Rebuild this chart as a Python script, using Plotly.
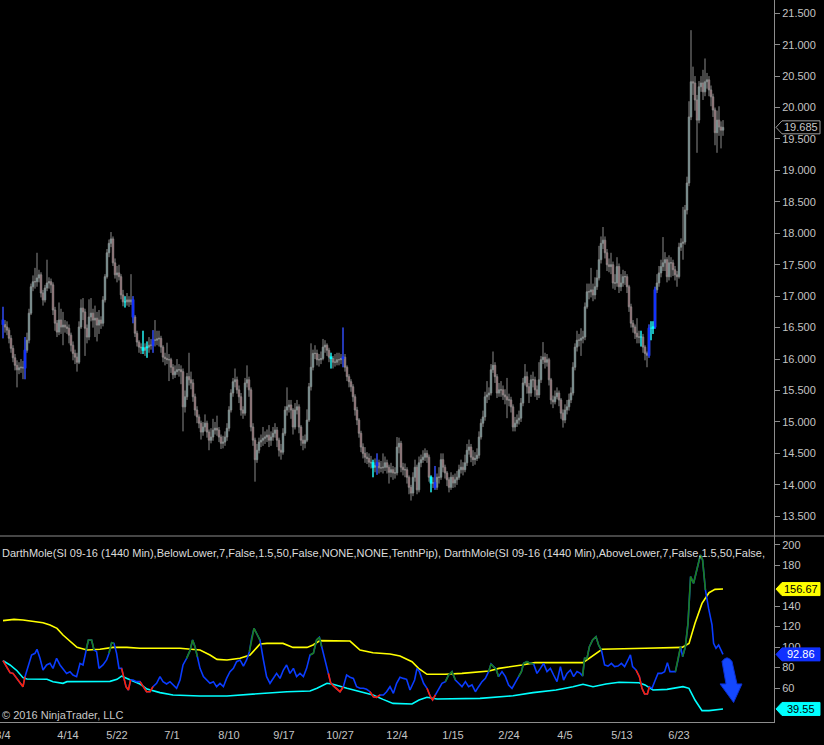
import plotly.graph_objects as go

# ---------------- price data (SI 09-16 daily bars) ----------------
closes = [
    16.55, 16.51, 16.46, 16.33, 16.17, 16.02, 15.90, 15.83, 15.86, 15.87,
    15.86, 16.14, 16.30, 16.73, 17.15, 17.23, 17.23, 17.29, 17.34, 17.05,
    16.94, 17.13, 17.21, 17.23, 17.18, 16.78, 16.57, 16.43, 16.62, 16.51,
    16.54, 16.51, 16.49, 16.38, 16.22, 16.09, 16.03, 15.95, 16.51, 16.81,
    16.75, 16.49, 16.35, 16.67, 16.73, 16.62, 16.65, 16.54, 16.62, 16.57,
    16.94, 17.31, 17.69, 17.84, 17.91, 17.53, 17.34, 17.37, 17.31, 17.02,
    16.91, 16.91, 16.94, 16.91, 16.94, 16.67, 16.41, 16.27, 16.19, 16.18,
    16.14, 16.18, 16.19, 16.22, 16.22, 16.30, 16.30, 16.32, 16.33, 16.19,
    16.03, 16.01, 15.99, 15.99, 15.87, 15.75, 15.80, 15.83, 15.83, 15.80,
    15.24, 15.40, 15.72, 15.67, 15.62, 15.40, 15.19, 15.08, 14.98, 14.84,
    14.92, 14.98, 14.84, 14.71, 14.76, 14.87, 14.90, 14.87, 14.76, 14.66,
    14.68, 14.76, 14.90, 15.19, 15.46, 15.64, 15.67, 15.51, 15.40, 15.19,
    15.14, 15.62, 15.67, 15.51, 14.92, 14.71, 14.40, 14.55, 14.68, 14.71,
    14.74, 14.76, 14.79, 14.71, 14.76, 14.82, 14.87, 14.71, 14.55, 14.52,
    14.82, 15.19, 15.24, 15.27, 15.19, 14.92, 15.19, 15.24, 14.92, 14.71,
    14.66, 14.71, 15.03, 15.56, 15.87, 16.09, 16.09, 15.99, 15.99, 16.01,
    16.19, 16.22, 16.14, 16.03, 16.01, 15.95, 15.95, 15.99, 15.99, 16.01,
    16.03, 15.87, 15.72, 15.64, 15.56, 15.40, 15.19, 15.03, 14.82, 14.60,
    14.50, 14.44, 14.42, 14.36, 14.35, 14.28, 14.31, 14.35, 14.27, 14.27,
    14.28, 14.35, 14.28, 14.20, 14.24, 14.19, 14.19, 14.60, 14.66, 14.28,
    14.24, 14.24, 14.12, 13.96, 13.87, 14.12, 14.28, 13.92, 14.35, 14.40,
    14.44, 14.50, 14.44, 14.12, 14.03, 14.03, 13.96, 14.12, 14.12, 14.40,
    14.28, 14.19, 14.08, 13.96, 14.12, 14.03, 14.08, 14.12, 14.24, 14.28,
    14.24, 14.35, 14.55, 14.60, 14.44, 14.40, 14.42, 14.47, 14.76, 14.98,
    15.08, 15.40, 15.43, 15.46, 15.83, 15.90, 15.72, 15.46, 15.51, 15.51,
    15.43, 15.40, 15.35, 15.35, 15.24, 14.92, 14.98, 15.03, 15.06, 15.30,
    15.62, 15.72, 15.56, 15.46, 15.67, 15.67, 15.51, 15.43, 15.67, 15.99,
    16.03, 15.95, 15.99, 15.67, 15.35, 15.32, 15.40, 15.46, 15.35, 15.14,
    15.03, 15.19, 15.24, 15.35, 15.46, 15.87, 16.19, 16.30, 16.30, 16.33,
    16.35, 16.83, 17.07, 17.07, 17.10, 17.02, 17.15, 17.29, 17.58, 17.84,
    17.89, 17.69, 17.50, 17.47, 17.50, 17.21, 17.21, 17.47, 17.15, 17.21,
    17.31, 17.31, 17.15, 16.83, 16.57, 16.51, 16.41, 16.35, 16.35, 16.35,
    16.19, 16.09, 16.06, 16.49, 16.49, 16.51, 17.10, 17.21, 17.37, 17.47,
    17.53, 17.58, 17.31, 17.53, 17.53, 17.42, 17.34, 17.31, 17.78, 17.84,
    17.86, 18.37, 18.80, 19.85, 20.41, 20.39, 20.12, 19.80, 20.33, 20.39,
    20.25, 20.41, 20.44, 20.28, 20.17, 19.96, 19.60, 19.80, 19.69, 19.64, 19.685,
]
opens = [
    16.62, 16.55, 16.51, 16.46, 16.33, 16.17, 16.02, 15.90, 15.83, 15.86,
    15.87, 15.86, 16.14, 16.30, 16.73, 17.15, 17.23, 17.23, 17.29, 17.34,
    17.05, 16.94, 17.13, 17.21, 17.23, 17.18, 16.78, 16.57, 16.43, 16.62,
    16.51, 16.54, 16.51, 16.49, 16.38, 16.22, 16.09, 16.03, 15.95, 16.51,
    16.81, 16.75, 16.49, 16.35, 16.67, 16.73, 16.62, 16.65, 16.54, 16.62,
    16.57, 16.94, 17.31, 17.69, 17.84, 17.91, 17.53, 17.34, 17.37, 17.31,
    17.02, 16.91, 16.91, 16.94, 16.91, 16.94, 16.67, 16.41, 16.27, 16.19,
    16.18, 16.14, 16.18, 16.19, 16.22, 16.22, 16.30, 16.30, 16.32, 16.33,
    16.19, 16.03, 16.01, 15.99, 15.99, 15.87, 15.75, 15.80, 15.83, 15.83,
    15.80, 15.24, 15.40, 15.72, 15.67, 15.62, 15.40, 15.19, 15.08, 14.98,
    14.84, 14.92, 14.98, 14.84, 14.71, 14.76, 14.87, 14.90, 14.87, 14.76,
    14.66, 14.68, 14.76, 14.90, 15.19, 15.46, 15.64, 15.67, 15.51, 15.40,
    15.19, 15.14, 15.62, 15.67, 15.51, 14.92, 14.71, 14.40, 14.55, 14.68,
    14.71, 14.74, 14.76, 14.79, 14.71, 14.76, 14.82, 14.87, 14.71, 14.55,
    14.52, 14.82, 15.19, 15.24, 15.27, 15.19, 14.92, 15.19, 15.24, 14.92,
    14.71, 14.66, 14.71, 15.03, 15.56, 15.87, 16.09, 16.09, 15.99, 15.99,
    16.01, 16.19, 16.22, 16.14, 16.03, 16.01, 15.95, 15.95, 15.99, 15.99,
    16.01, 16.03, 15.87, 15.72, 15.64, 15.56, 15.40, 15.19, 15.03, 14.82,
    14.60, 14.50, 14.44, 14.42, 14.36, 14.35, 14.28, 14.31, 14.35, 14.27,
    14.27, 14.28, 14.35, 14.28, 14.20, 14.24, 14.19, 14.19, 14.60, 14.66,
    14.28, 14.24, 14.24, 14.12, 13.96, 13.87, 14.12, 14.28, 13.92, 14.35,
    14.40, 14.44, 14.50, 14.44, 14.12, 14.03, 14.03, 13.96, 14.12, 14.12,
    14.40, 14.28, 14.19, 14.08, 13.96, 14.12, 14.03, 14.08, 14.12, 14.24,
    14.28, 14.24, 14.35, 14.55, 14.60, 14.44, 14.40, 14.42, 14.47, 14.76,
    14.98, 15.08, 15.40, 15.43, 15.46, 15.83, 15.90, 15.72, 15.46, 15.51,
    15.51, 15.43, 15.40, 15.35, 15.35, 15.24, 14.92, 14.98, 15.03, 15.06,
    15.30, 15.62, 15.72, 15.56, 15.46, 15.67, 15.67, 15.51, 15.43, 15.67,
    15.99, 16.03, 15.95, 15.99, 15.67, 15.35, 15.32, 15.40, 15.46, 15.35,
    15.14, 15.03, 15.19, 15.24, 15.35, 15.46, 15.87, 16.19, 16.30, 16.30,
    16.33, 16.35, 16.83, 17.07, 17.07, 17.10, 17.02, 17.15, 17.29, 17.58,
    17.84, 17.89, 17.69, 17.50, 17.47, 17.50, 17.21, 17.21, 17.47, 17.15,
    17.21, 17.31, 17.31, 17.15, 16.83, 16.57, 16.51, 16.41, 16.35, 16.35,
    16.35, 16.19, 16.09, 16.06, 16.49, 16.49, 16.51, 17.10, 17.21, 17.37,
    17.47, 17.53, 17.58, 17.31, 17.53, 17.53, 17.42, 17.34, 17.31, 17.78,
    17.84, 17.86, 18.37, 18.80, 19.85, 20.41, 20.39, 20.12, 19.80, 20.33,
    20.39, 20.25, 20.41, 20.44, 20.28, 20.17, 19.96, 19.60, 19.80, 19.69, 19.64,
]
highs = [
    16.83, 16.62, 16.60, 16.50, 16.38, 16.22, 16.08, 15.98, 15.95, 16.00,
    15.97, 16.35, 16.42, 16.80, 17.20, 17.33, 17.45, 17.69, 17.42, 17.38,
    17.10, 17.18, 17.58, 17.30, 17.28, 17.22, 16.83, 16.62, 16.90, 16.80,
    16.75, 16.62, 16.60, 16.55, 16.42, 16.28, 16.15, 16.10, 16.60, 16.95,
    16.97, 16.80, 16.55, 16.95, 16.97, 16.80, 16.85, 16.75, 16.78, 16.68,
    17.00, 17.35, 17.75, 17.90, 18.02, 17.95, 17.60, 17.48, 17.50, 17.35,
    17.10, 17.00, 17.05, 17.00, 17.35, 17.00, 16.70, 16.45, 16.30, 16.25,
    16.45, 16.25, 16.28, 16.35, 16.32, 16.46, 16.62, 16.45, 16.45, 16.37,
    16.22, 16.10, 16.26, 16.08, 16.02, 15.92, 15.90, 16.00, 15.92, 15.90,
    15.85, 15.50, 15.78, 16.10, 15.80, 15.68, 15.45, 15.25, 15.12, 15.02,
    15.00, 15.12, 15.02, 14.88, 14.90, 15.05, 15.00, 15.10, 14.92, 14.80,
    14.78, 14.85, 14.98, 15.25, 15.52, 15.70, 15.85, 15.72, 15.58, 15.46,
    15.25, 15.70, 15.90, 15.72, 15.55, 14.98, 14.75, 14.65, 14.75, 14.80,
    14.92, 14.85, 14.88, 14.95, 14.85, 14.92, 14.98, 14.92, 14.75, 14.65,
    14.90, 15.25, 15.55, 15.35, 15.35, 15.22, 15.30, 15.35, 15.28, 14.95,
    14.78, 14.80, 15.20, 15.62, 16.25, 16.15, 16.22, 16.15, 16.08, 16.12,
    16.32, 16.30, 16.25, 16.18, 16.10, 16.05, 16.08, 16.10, 16.10, 16.08,
    16.50, 16.08, 15.90, 15.76, 15.68, 15.60, 15.44, 15.24, 15.06, 14.86,
    14.66, 14.60, 14.52, 14.50, 14.46, 14.40, 14.42, 14.50, 14.40, 14.38,
    14.50, 14.45, 14.40, 14.32, 14.35, 14.30, 14.28, 14.76, 14.75, 14.70,
    14.35, 14.34, 14.28, 14.15, 14.00, 14.20, 14.40, 14.32, 14.45, 14.48,
    14.55, 14.58, 14.55, 14.48, 14.15, 14.12, 14.30, 14.18, 14.28, 14.50,
    14.50, 14.32, 14.22, 14.12, 14.20, 14.16, 14.18, 14.22, 14.32, 14.40,
    14.36, 14.48, 14.65, 14.72, 14.65, 14.55, 14.52, 14.58, 14.85, 15.05,
    15.18, 15.48, 15.65, 15.55, 15.92, 16.12, 15.95, 15.76, 15.62, 15.65,
    15.58, 15.52, 15.70, 15.45, 15.40, 15.28, 15.08, 15.12, 15.18, 15.38,
    15.70, 15.92, 15.80, 15.62, 15.75, 15.80, 15.72, 15.58, 15.95, 16.05,
    16.27, 16.10, 16.08, 16.02, 15.70, 15.42, 15.50, 15.55, 15.50, 15.38,
    15.20, 15.28, 15.35, 15.45, 15.55, 15.95, 16.25, 16.45, 16.40, 16.49,
    16.45, 16.90, 17.20, 17.20, 17.45, 17.20, 17.30, 17.42, 17.80, 17.95,
    18.10, 17.95, 17.75, 17.60, 17.69, 17.55, 17.35, 17.62, 17.52, 17.35,
    17.42, 17.40, 17.35, 17.18, 16.88, 16.62, 16.55, 16.65, 16.45, 16.45,
    16.40, 16.22, 16.12, 16.55, 16.60, 16.60, 17.15, 17.35, 17.48, 17.58,
    17.94, 17.70, 17.62, 17.65, 17.62, 17.58, 17.48, 17.40, 17.85, 17.92,
    18.42, 18.45, 18.90, 20.10, 21.23, 20.65, 20.50, 20.20, 20.42, 20.50,
    20.60, 20.78, 20.55, 20.50, 20.35, 20.22, 20.00, 19.95, 20.02, 19.78, 19.80,
]
lows = [
    16.33, 16.42, 16.38, 16.25, 16.10, 15.95, 15.82, 15.55, 15.76, 15.78,
    15.68, 15.68, 16.10, 16.25, 16.70, 17.08, 17.12, 17.15, 17.22, 16.98,
    16.85, 16.90, 17.08, 17.12, 17.05, 16.70, 16.45, 16.35, 16.38, 16.40,
    16.22, 16.42, 16.40, 16.25, 16.12, 15.98, 15.92, 15.80, 15.92, 16.48,
    16.62, 16.05, 16.25, 16.30, 16.60, 16.50, 16.35, 16.28, 16.40, 16.48,
    16.52, 16.90, 17.28, 17.62, 17.78, 17.48, 17.28, 17.22, 17.25, 16.95,
    16.84, 16.82, 16.85, 16.83, 16.86, 16.57, 16.35, 16.20, 16.10, 16.08,
    16.08, 16.05, 16.02, 16.10, 16.15, 16.10, 16.20, 16.22, 16.20, 16.10,
    15.95, 15.90, 15.92, 15.65, 15.78, 15.68, 15.70, 15.75, 15.72, 15.60,
    14.85, 15.15, 15.35, 15.58, 15.52, 15.32, 15.10, 14.98, 14.90, 14.72,
    14.78, 14.85, 14.75, 14.55, 14.66, 14.70, 14.80, 14.78, 14.68, 14.57,
    14.58, 14.62, 14.70, 14.85, 15.15, 15.40, 15.55, 15.45, 15.30, 15.10,
    15.05, 15.10, 15.55, 15.40, 14.85, 14.62, 14.05, 14.35, 14.50, 14.60,
    14.62, 14.65, 14.68, 14.60, 14.62, 14.70, 14.75, 14.60, 14.45, 14.40,
    14.48, 14.78, 15.10, 15.15, 15.05, 14.80, 14.88, 15.12, 14.82, 14.62,
    14.55, 14.58, 14.68, 15.00, 15.50, 15.82, 16.00, 15.90, 15.88, 15.92,
    15.98, 16.10, 16.05, 15.95, 15.85, 15.85, 15.88, 15.90, 15.90, 15.92,
    15.87, 15.80, 15.65, 15.55, 15.48, 15.32, 15.10, 14.95, 14.75, 14.52,
    14.42, 14.35, 14.33, 14.28, 14.26, 14.12, 14.20, 14.16, 14.18, 14.20,
    14.18, 14.22, 14.18, 14.02, 14.12, 14.08, 14.10, 14.15, 14.50, 14.20,
    14.15, 14.12, 14.02, 13.85, 13.75, 13.82, 14.05, 13.85, 13.88, 14.28,
    14.35, 14.38, 14.35, 14.05, 13.88, 13.95, 13.92, 13.92, 14.02, 14.08,
    14.20, 14.10, 13.98, 13.88, 13.92, 13.95, 13.96, 14.00, 14.08, 14.18,
    14.15, 14.20, 14.30, 14.48, 14.36, 14.30, 14.32, 14.38, 14.42, 14.72,
    14.92, 15.02, 15.30, 15.35, 15.42, 15.78, 15.62, 15.38, 15.40, 15.40,
    15.35, 15.28, 15.06, 15.25, 15.15, 14.85, 14.85, 14.92, 14.96, 15.00,
    15.25, 15.58, 15.45, 15.30, 15.40, 15.55, 15.40, 15.35, 15.38, 15.62,
    15.92, 15.85, 15.88, 15.58, 15.28, 15.22, 15.28, 15.36, 15.25, 15.05,
    14.91, 14.98, 15.12, 15.18, 15.30, 15.42, 15.82, 16.12, 16.20, 16.05,
    16.25, 16.30, 16.80, 16.95, 16.98, 16.92, 16.95, 17.10, 17.25, 17.52,
    17.75, 17.60, 17.40, 17.38, 17.35, 17.12, 17.10, 17.15, 17.05, 17.08,
    17.15, 17.18, 17.05, 16.75, 16.50, 16.42, 16.32, 16.25, 16.25, 16.20,
    16.10, 15.98, 15.87, 16.02, 16.30, 16.40, 16.48, 17.05, 17.15, 17.30,
    17.40, 17.40, 17.22, 17.25, 17.30, 17.32, 17.25, 17.15, 17.28, 17.72,
    17.58, 17.82, 18.30, 18.75, 19.80, 20.20, 19.95, 19.28, 19.75, 20.25,
    20.12, 20.18, 20.30, 20.18, 20.02, 19.85, 19.40, 19.28, 19.55, 19.35, 19.55,
]
# bars flagged by the DarthMole signals
blue_signal_bars = [0, 11, 65, 75, 170, 187, 216, 323, 326]
cyan_signal_bars = [61, 70, 72, 164, 185, 214, 319, 324, 325]

# date labels on the time axis (bar index, label)
tick_bars = [0, 32.5, 57, 84.5, 113, 140.5, 168.5, 197, 225, 253, 281, 309.5, 338]
tick_text = ["3/4", "4/14", "5/22", "7/1", "8/10", "9/17", "10/27", "12/4",
             "1/15", "2/24", "4/5", "5/13", "6/23"]

# ---------------- indicator data ----------------
ind_x = [0, 2, 3.5, 5, 7, 8.5, 10, 11, 12.7, 14.3, 16, 17, 18.5, 20, 21.8, 23.5, 25, 26.8,
         28.5, 30, 31.8, 33.5, 35, 36.8, 38.5, 40, 41.5, 42.7, 44.3, 45.5, 46.8, 48, 50,
         51.8, 53, 54.3, 55.5, 56.8, 58, 59.3, 60.5, 61.5, 62.7, 63.8, 65, 66.8, 68.5, 70,
         71.8, 73.5, 75, 76.8, 78.5, 80, 81.8, 83.5, 85, 86.8, 88.5, 90, 91.8, 93.5, 94.8,
         96, 97.2, 98.5, 100.2, 101.8, 103.5, 105.2, 106.8, 108.5, 110.2, 111.8, 113.5,
         115.2, 116.8, 118.5, 120.2, 121.8, 123.2, 124.3, 125.5, 127.2, 128.5, 130.2,
         131.8, 133.5, 135.2, 136.8, 138.5, 140.2, 141.8, 143.5, 145.2, 146.8, 148.5,
         150.2, 151.8, 153.5, 155.2, 156.8, 158.2, 159.3, 161, 162.7, 163.8, 165.2, 166.8,
         168.5, 170.2, 171.8, 173.5, 175.2, 176.8, 178.5, 180.2, 181.8, 183.5, 185.2,
         186.8, 188.5, 190.2, 191.8, 193.5, 195.2, 196.8, 198.5, 200.2, 201.8, 203.5,
         205.8, 207, 208.2, 210.3, 212, 213.7, 214.8, 216.2, 217.8, 219.5, 221.2, 222.8,
         224.5, 226.2, 227.8, 229.5, 231.2, 232.8, 234.5, 236.2, 237.8, 239.5, 241.2,
         242.8, 244, 245.3, 246.5, 247.8, 249.5, 251.2, 252.8, 254.5, 256.2, 257.8, 259.2,
         260.3, 262, 263.7, 265.3, 267, 268.7, 270.3, 272, 273.7, 275.3, 277, 278.7,
         280.3, 282, 283.7, 285.3, 287, 288.7, 289.8, 290.8, 292, 293.2, 294.8, 296.5,
         297.8, 299.2, 300.8, 302.5, 304.2, 305.8, 307.5, 309.2, 310.8, 312.5, 313.7,
         314.8, 316.5, 318.2, 319.5, 320.8, 322.2, 323.2, 324.5, 325.8, 327.5, 329.2,
         330.8, 332.2, 333.5, 334.8, 336.2, 337.5, 338.8, 339.8, 341.2, 342.5, 343.8,
         345.3, 347, 348.7, 349.8, 351.2, 352.8, 354.5, 355.3, 356.5, 357.8, 360]
ind_val = [86.7, 79.2, 75.0, 74.3, 69.4, 65.2, 61.3, 71.1, 82.5, 92.3, 93.9, 97.8, 89.0,
           77.6, 82.5, 84.1, 79.2, 89.0, 82.5, 79.2, 74.3, 75.9, 72.7, 71.1, 84.1, 82.5,
           97.1, 106.9, 106.9, 97.1, 95.5, 79.2, 82.5, 87.4, 93.9, 104.3, 103.6, 93.9,
           79.2, 79.2, 69.4, 61.3, 58.1, 67.8, 67.8, 66.2, 66.2, 61.3, 56.4, 56.4, 61.3,
           64.6, 71.1, 66.2, 63.9, 66.2, 63.0, 59.7, 67.8, 82.5, 89.0, 96.5, 106.9, 100.4,
           90.6, 79.2, 71.1, 67.8, 64.6, 66.2, 61.3, 64.6, 61.3, 69.4, 75.9, 79.2, 85.7,
           87.4, 81.5, 87.4, 95.5, 108.5, 118.3, 111.8, 106.9, 87.4, 71.1, 64.6, 69.4,
           74.3, 69.4, 77.6, 82.5, 74.3, 79.2, 71.1, 74.3, 71.1, 79.2, 92.3, 93.9, 106.9,
           109.5, 100.4, 87.4, 74.3, 65.2, 62.0, 59.7, 56.4, 61.3, 72.7, 70.5, 69.4, 61.3,
           59.7, 59.7, 58.7, 56.4, 51.5, 50.9, 53.2, 53.2, 56.4, 61.3, 54.8, 64.6, 70.5,
           69.4, 68.5, 58.1, 67.8, 79.2, 76.0, 64.6, 59.7, 51.5, 48.3, 53.2, 58.1, 64.6,
           66.2, 72.7, 76.0, 67.8, 64.6, 61.3, 66.2, 61.3, 63.0, 56.4, 61.3, 66.2, 69.4,
           76.0, 83.5, 80.5, 78.7, 71.1, 76.0, 71.1, 63.0, 59.7, 66.2, 71.1, 76.0, 84.1,
           85.7, 84.1, 83.5, 74.3, 79.2, 84.1, 76.0, 79.2, 72.7, 66.2, 80.9, 67.8, 74.3,
           77.6, 71.1, 76.0, 74.3, 71.7, 89.0, 89.0, 100.4, 106.9, 110.2, 102.0, 97.1,
           82.5, 81.5, 84.1, 80.9, 81.5, 84.1, 80.9, 87.4, 92.3, 80.9, 77.6, 71.1, 59.7,
           54.2, 54.2, 61.3, 59.7, 66.2, 74.3, 74.3, 76.0, 84.8, 76.0, 76.0, 76.0, 87.4,
           100.4, 90.6, 100.4, 123.2, 168.8, 162.3, 175.3, 190.0, 185.1, 155.8, 137.8,
           121.6, 103.6, 98.8, 102.0, 92.86]
# stretches where the line is painted green (above upper) / red (below lower)
green_spans = [(41.5, 45.5), (53, 55.5), (91.8, 97.2), (123.2, 128.5), (153.5, 159.3),
               (221.2, 226.2), (242.8, 247.8), (257.8, 265.3), (289.8, 299.2),
               (336.2, 338.8), (339.8, 351.2)]
red_spans = [(0, 11), (59.3, 63.8), (68.5, 75), (162.7, 170.2), (183.5, 188.5),
             (212, 216.2), (316.5, 323.2)]

upper_x = [0, 5.5, 10, 15, 20, 23.5, 27, 30, 33.5, 37, 42, 48.5, 55, 62, 68.5, 80, 88.5,
           98.5, 103.5, 107, 112, 118.5, 123.5, 127, 128.5, 132, 140, 145, 152, 155, 158.5,
           173.5, 178.5, 185, 193.5, 198.5, 204.5, 207.8, 212, 221, 229.5, 243, 248, 259.5,
           266, 290, 294, 299.5, 321, 339.5, 343, 346, 349.5, 353, 356, 360]
upper_v = [125.8, 127.1, 126.4, 125.1, 123.8, 121.6, 118.3, 111.8, 105.3, 99.7, 97.1, 97.8,
           99.7, 99.7, 98.8, 98.8, 98.8, 97.1, 92.3, 88.0, 87.4, 89.0, 92.3, 99.7, 103.0,
           103.6, 103.6, 99.7, 99.7, 102.0, 106.3, 105.9, 97.1, 94.5, 93.2, 91.3, 85.7, 79.2,
           73.4, 73.4, 74.3, 76.6, 79.2, 82.5, 84.8, 84.8, 90.6, 97.8, 98.8, 99.7, 103.6,
           123.2, 142.7, 153.1, 156.4, 156.67]
lower_x = [0, 3.5, 7, 10, 12, 22, 25, 30, 32, 42, 53.5, 57, 59.3, 62, 68.5, 72, 75, 78.5,
           85, 98.5, 112, 122, 128.5, 142, 153.5, 157, 162, 165, 172, 178.5, 185, 190, 195,
           204.5, 208, 212, 217, 238.5, 255, 265, 276.5, 285, 290, 295, 301.5, 308, 318,
           321, 325, 332, 340, 343, 346, 349.5, 353, 360]
lower_v = [86.7, 82.5, 76.9, 70.1, 68.8, 68.5, 66.2, 64.6, 66.2, 66.5, 66.5, 68.5, 71.7,
           69.4, 63.9, 59.0, 57.1, 55.5, 53.2, 52.2, 52.2, 53.5, 54.8, 56.4, 57.1, 59.7,
           64.6, 63.6, 59.7, 56.4, 53.2, 48.9, 45.0, 44.4, 48.3, 50.9, 49.3, 49.9, 52.5,
           55.5, 58.1, 61.3, 63.6, 61.3, 63.9, 65.6, 65.2, 63.0, 58.1, 58.7, 61.3, 59.7,
           48.3, 37.9, 37.9, 39.55]

legend_text = ("DarthMole(SI 09-16 (1440 Min),BelowLower,7,False,1.5,50,False,NONE,NONE,"
               "TenthPip), DarthMole(SI 09-16 (1440 Min),AboveLower,7,False,1.5,50,False,")

# ---------------- figure ----------------
FONT = "Arial, Liberation Sans, sans-serif"
AXIS = "#8c8c8c"
LBL = "#c4c4c4"
BAR_LINE = "#8a8a8a"

bars = list(range(len(closes)))
fig = go.Figure()

fig.add_trace(go.Candlestick(
    x=bars, open=opens, high=highs, low=lows, close=closes,
    increasing=dict(line=dict(color=BAR_LINE, width=1), fillcolor="#48D1CC"),
    decreasing=dict(line=dict(color=BAR_LINE, width=1), fillcolor="#C8283C"),
    xaxis="x", yaxis="y", hoverinfo="skip", showlegend=False))


def signal_trace(idx, color):
    return go.Candlestick(
        x=[bars[i] for i in idx], open=[opens[i] for i in idx],
        high=[highs[i] for i in idx], low=[lows[i] for i in idx],
        close=[closes[i] for i in idx],
        increasing=dict(line=dict(color=color, width=1.2), fillcolor=color),
        decreasing=dict(line=dict(color=color, width=1.2), fillcolor=color),
        xaxis="x", yaxis="y", hoverinfo="skip", showlegend=False)


fig.add_trace(signal_trace(blue_signal_bars, "#1030FF"))
fig.add_trace(signal_trace(cyan_signal_bars, "#00FFFF"))

# indicator lines
fig.add_trace(go.Scatter(x=upper_x, y=upper_v, mode="lines", line=dict(color="#FFFF00", width=1.6),
                         xaxis="x2", yaxis="y2", hoverinfo="skip", showlegend=False))
fig.add_trace(go.Scatter(x=lower_x, y=lower_v, mode="lines", line=dict(color="#00FFFF", width=1.6),
                         xaxis="x2", yaxis="y2", hoverinfo="skip", showlegend=False))
fig.add_trace(go.Scatter(x=ind_x, y=ind_val, mode="lines", line=dict(color="#0A3CFF", width=1.6),
                         xaxis="x2", yaxis="y2", hoverinfo="skip", showlegend=False))


def span_points(spans):
    xs, ys = [], []
    for a, b in spans:
        for xv, yv in zip(ind_x, ind_val):
            if a <= xv <= b:
                xs.append(xv)
                ys.append(yv)
        xs.append(None)
        ys.append(None)
    return xs, ys


gx, gy = span_points(green_spans)
rx, ry = span_points(red_spans)
fig.add_trace(go.Scatter(x=gx, y=gy, mode="lines", line=dict(color="#1C7F1C", width=1.6),
                         xaxis="x2", yaxis="y2", hoverinfo="skip", showlegend=False,
                         connectgaps=False))
fig.add_trace(go.Scatter(x=rx, y=ry, mode="lines", line=dict(color="#FF2200", width=1.6),
                         xaxis="x2", yaxis="y2", hoverinfo="skip", showlegend=False,
                         connectgaps=False))

SPLIT = 0.2576
XR = [-1.5, 385.5]
tickfont = dict(family=FONT, size=11, color=LBL)

fig.update_layout(
    width=824, height=745,
    margin=dict(l=0, r=50, t=0, b=23),
    paper_bgcolor="black", plot_bgcolor="black",
    showlegend=False,
    boxgap=0,
    xaxis=dict(domain=[0, 1], range=XR, anchor="y", showticklabels=False, showgrid=False,
               zeroline=False, showline=False, ticks="", rangeslider=dict(visible=False),
               automargin=False),
    xaxis2=dict(domain=[0, 1], range=XR, anchor="y2", tickvals=tick_bars, ticktext=tick_text,
                showgrid=False, zeroline=False, showline=True, linecolor=AXIS, linewidth=1,
                ticks="outside", ticklen=3, tickcolor="black", tickfont=tickfont,
                automargin=False, ticklabeloverflow="allow"),
    yaxis=dict(domain=[SPLIT, 1], range=[13.186, 21.71], anchor="x", side="right",
               tick0=13.5, dtick=0.5, tickformat=".3f", showgrid=False, zeroline=False,
               showline=True, linecolor=AXIS, linewidth=1, ticks="outside", ticklen=5,
               tickcolor=AXIS, tickfont=tickfont, automargin=False),
    yaxis2=dict(domain=[0, SPLIT], range=[26.8, 208.5], anchor="x2", side="right",
                tickvals=[60, 80, 100, 120, 140, 180, 200], showgrid=False,
                zeroline=False, showline=True, linecolor=AXIS, linewidth=1, ticks="outside",
                ticklen=5, tickcolor=AXIS, tickfont=tickfont, automargin=False),
)

shapes = [
    dict(type="line", xref="paper", yref="paper", x0=0, x1=1.08, y0=SPLIT, y1=SPLIT,
         line=dict(color=AXIS, width=1)),
    # hand-drawn blue arrow on the indicator panel
    dict(type="path", xref="x2", yref="y2",
         path="M 359.5,86 Q 362,93 364.5,86 L 367,64 L 369.5,64 L 365.3,45.8 L 358.5,64 L 361.5,64 Z",
         fillcolor="#1448FF", line=dict(color="#0A2FD0", width=1)),
]
annotations = [
    dict(text=legend_text, xref="paper", yref="paper", x=0, y=(722 - 553) / 722,
         xanchor="left", yanchor="middle", showarrow=False,
         font=dict(family=FONT, size=11, color="#dcdcdc")),
    dict(text="© 2016 NinjaTrader, LLC", xref="paper", yref="paper", x=0, y=(722 - 715) / 722,
         xanchor="left", yanchor="middle", showarrow=False,
         font=dict(family=FONT, size=11, color="#c8c8c8")),
]

markers = [
    ("y", closes[-1], "19.685", "black", "#a0a0a0", "#c8c8c8"),
    ("y2", upper_v[-1], "156.67", "#FFFF00", "#FFFF00", "black"),
    ("y2", ind_val[-1], "92.86", "#1030FF", "#1030FF", "white"),
    ("y2", lower_v[-1], "39.55", "#00FFFF", "#00FFFF", "black"),
]
for yref, val, label, fill, border, tcol in markers:
    shapes.append(dict(type="path", xref="paper", yref=yref, xsizemode="pixel", ysizemode="pixel",
                       xanchor=1, yanchor=val,
                       path="M 2,0 L 8,6.5 L 46,6.5 L 46,-6.5 L 8,-6.5 Z",
                       fillcolor=fill, line=dict(color=border, width=1)))
    annotations.append(dict(text=label, xref="paper", yref=yref, x=1, y=val, xanchor="center",
                            yanchor="middle", xshift=27, showarrow=False,
                            font=dict(family=FONT, size=11, color=tcol)))

fig.update_layout(shapes=shapes, annotations=annotations)
fig.write_html("out.html", config={"displayModeBar": False},
               post_script="document.body.style.margin='0';document.body.style.background='black';")
